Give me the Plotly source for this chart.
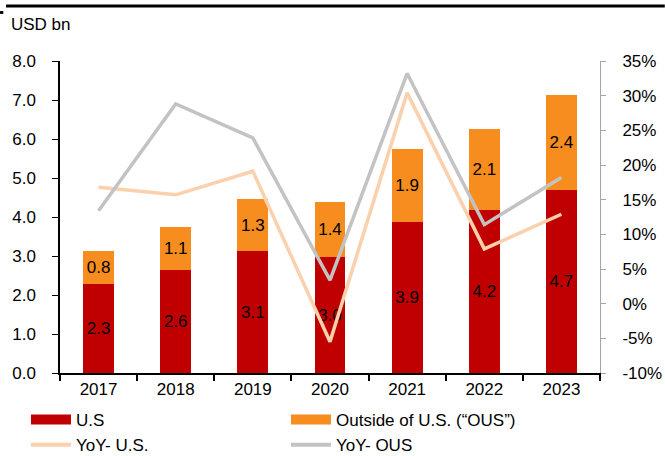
import plotly.graph_objects as go

years = ["2017", "2018", "2019", "2020", "2021", "2022", "2023"]
us_sales = [2.28, 2.64, 3.12, 2.97, 3.87, 4.17, 4.70]
ous_sales = [0.84, 1.10, 1.34, 1.41, 1.87, 2.09, 2.44]
yoy_us = [16.8, 15.7, 19.1, -5.5, 30.4, 7.9, 12.9]
yoy_ous = [13.4, 28.8, 23.9, 3.4, 33.2, 11.4, 18.2]
pct_ticks = [-10, -5, 0, 5, 10, 15, 20, 25, 30, 35]
pct_labels = ["-10%", "-5%", "0%", "5%", "10%", "15%", "20%", "25%", "30%", "35%"]

FONT = "Arial, Liberation Sans, sans-serif"
C_US = "#C00000"
C_OUS = "#F78D1E"
C_YUS = "#FBD0AD"
C_YOUS = "#C3C3C3"
FS = 17

fig = go.Figure()

fig.add_trace(go.Bar(
    x=years, y=us_sales, name="U.S", marker=dict(color=C_US, line=dict(width=0)),
    width=0.4, text=[f"{v:.1f}" for v in us_sales], textposition="inside",
    insidetextanchor="middle", constraintext="none",
    textfont=dict(color="black", size=FS, family=FONT), showlegend=False,
))
fig.add_trace(go.Bar(
    x=years, y=ous_sales, name="Outside of U.S. (“OUS”)", marker=dict(color=C_OUS, line=dict(width=0)),
    width=0.4, text=[f"{v:.1f}" for v in ous_sales], textposition="inside",
    insidetextanchor="middle", constraintext="none",
    textfont=dict(color="black", size=FS, family=FONT), showlegend=False,
))
fig.add_trace(go.Scatter(
    x=years, y=yoy_us, name="YoY- U.S.", mode="lines", yaxis="y2",
    line=dict(color=C_YUS, width=3.5), showlegend=False,
))
fig.add_trace(go.Scatter(
    x=years, y=yoy_ous, name="YoY- OUS", mode="lines", yaxis="y2",
    line=dict(color=C_YOUS, width=3.5), showlegend=False,
))

# legend entries (wide swatches like the original)
for name, col, w in [("U.S", C_US, 10), ("Outside of U.S. (“OUS”)", C_OUS, 10),
                     ("YoY- U.S.", C_YUS, 4), ("YoY- OUS", C_YOUS, 4)]:
    fig.add_trace(go.Scatter(x=[None], y=[None], mode="lines", name=name,
                             line=dict(color=col, width=w), showlegend=True,
                             hoverinfo="skip"))

fig.update_layout(
    barmode="stack",
    width=665, height=456,
    margin=dict(l=60, r=65, t=61, b=83, autoexpand=False),
    paper_bgcolor="white", plot_bgcolor="white",
    font=dict(family=FONT, size=FS, color="black"),
    showlegend=True,
    legend=dict(orientation="h", x=-0.063, xanchor="left", y=-0.093, yanchor="top",
                entrywidth=205, tracegroupgap=0, itemwidth=40, traceorder="normal",
                font=dict(size=FS, family=FONT), bgcolor="rgba(0,0,0,0)"),
    xaxis=dict(type="category", showgrid=False, showline=True, linecolor="black",
               linewidth=1.5, ticks="outside", tickson="boundaries", ticklen=6,
               tickcolor="black", tickwidth=1.5, tickfont=dict(size=FS)),
    yaxis=dict(range=[0, 8], dtick=1, tickformat=".1f", showgrid=False,
               showline=True, linecolor="black", linewidth=1.5, ticks="outside",
               ticklen=6, tickcolor="black", tickfont=dict(size=FS),
               ticklabelstandoff=13, zeroline=False),
    yaxis2=dict(range=[-10, 35], tickvals=pct_ticks, ticktext=pct_labels,
                overlaying="y", side="right",
                showgrid=False, showline=True, linecolor="#A6A6A6", linewidth=1,
                ticks="outside", ticklen=5, tickcolor="#A6A6A6",
                tickfont=dict(size=FS), ticklabelstandoff=13, zeroline=False),
    annotations=[dict(text="USD bn", xref="paper", yref="paper",
                      x=-0.094, y=1.118, xanchor="left", yanchor="middle",
                      showarrow=False, font=dict(size=FS, family=FONT))],
    shapes=[
        dict(type="line", xref="paper", yref="paper", x0=-0.1, x1=1.12,
             y0=1.176, y1=1.176, line=dict(color="black", width=3)),
        dict(type="rect", xref="paper", yref="paper", x0=-0.112, x1=-0.105,
             y0=1.151, y1=1.160, fillcolor="black", line=dict(width=0)),
    ],
)

fig.write_html("out.html", config={"displayModeBar": False},
               post_script="document.body.style.margin='0';")
